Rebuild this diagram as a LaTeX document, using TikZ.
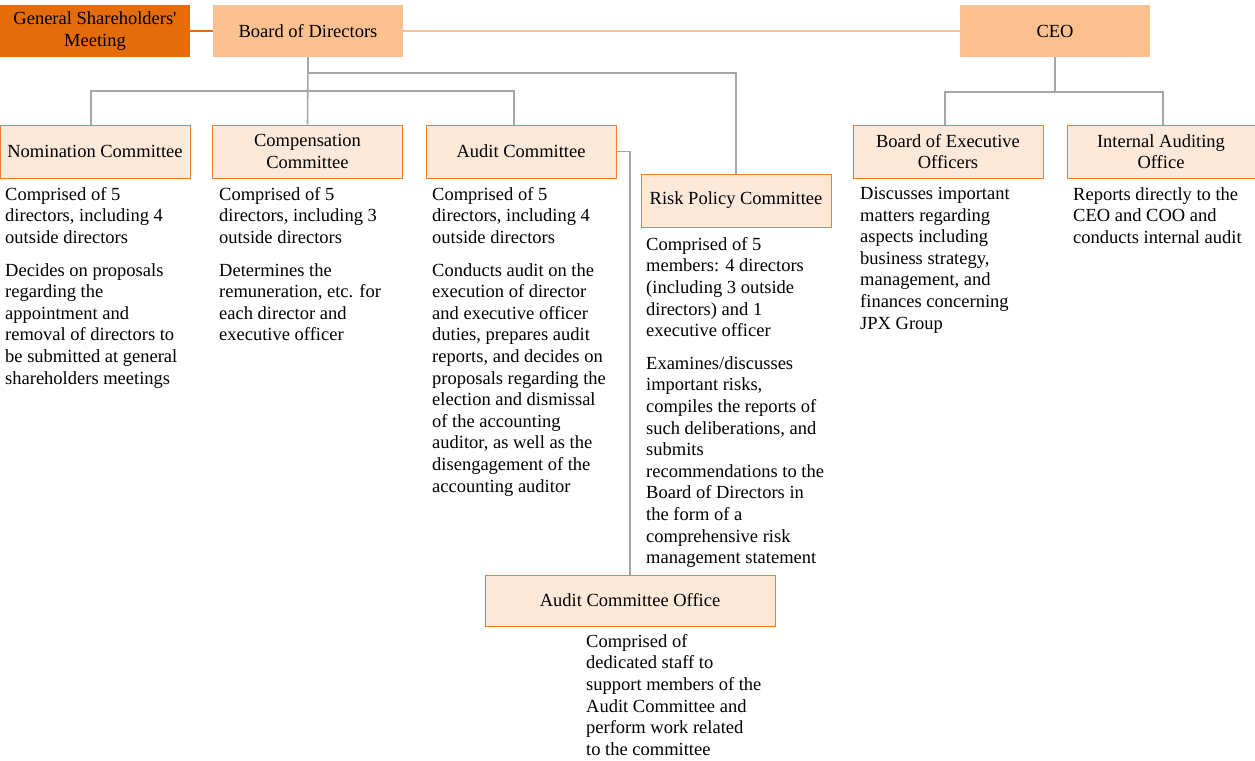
\documentclass[tikz,border=0pt]{standalone}
\usepackage{fontspec}
\setmainfont{Liberation Serif}
\usetikzlibrary{positioning}
\definecolor{meeting}{HTML}{E46C0A}
\definecolor{board}{HTML}{FAC090}
\definecolor{committee}{HTML}{FDE9D9}
\definecolor{edge}{HTML}{EE7F2D}
\definecolor{linkgray}{HTML}{A6A6A6}

\begin{document}
\begin{tikzpicture}[x=1pt,y=-1pt,
  every node/.style={font=\fontsize{18.5}{21.6}\selectfont,inner sep=0pt},
  topbox/.style={minimum width=190pt,minimum height=52pt,align=center},
  combox/.style={draw=edge,line width=1pt,fill=committee,minimum width=190pt,minimum height=53pt,align=center},
  desc/.style={anchor=north west,align=left},
  link/.style={linkgray,line width=1.6pt}]
  \useasboundingbox (0,0) rectangle (1255,760);

  % Top row
  \node[topbox,fill=meeting] (gsm) at (95,31) {General Shareholders\textquotesingle\\Meeting};
  \node[topbox,fill=board] (bod) at (308,31) {Board of Directors};
  \node[topbox,fill=board] (ceo) at (1055,31) {CEO};
  \draw[line width=1.6pt,meeting] (gsm) -- (bod);
  \draw[line width=1.6pt,board] (bod) -- (ceo);

  % Committees under the board
  \node[combox] (nom) at (95,151.5) {Nomination Committee};
  \node[combox] (comp) at (307.5,151.5) {Compensation\\Committee};
  \node[combox] (audit) at (521,151.5) {Audit Committee};
  \node[combox] (risk) at (736,200.5) {Risk Policy Committee};
  \node[combox,minimum width=290pt,minimum height=51pt] (aco) at (630,600.5) {Audit Committee Office};

  % Bodies under the CEO
  \node[combox] (boeo) at (948,151.5) {Board of Executive\\Officers};
  \node[combox,minimum width=188pt] (iao) at (1161,151.5) {Internal Auditing\\Office};

  % Connectors
  \coordinate (riskbus) at (735,73);
  \coordinate (combus) at (311,91);
  \coordinate (execbus) at (1055,92);
  \draw[link] (bod.south) -- (comp.north);
  \draw[link] (bod.south) |- (riskbus) -| (risk.north);
  \draw[link] ([xshift=-4pt]nom.north) |- (combus) -| ([xshift=-7pt]audit.north);
  \draw[link] (audit.east) -| (aco.north);
  \draw[link] (ceo.south) -- (execbus);
  \draw[link] ([xshift=-3pt]boeo.north) |- (execbus) -| ([xshift=2pt]iao.north);

  % Descriptions
  \node[desc] (nomtext) at (5,187) {Comprised of 5\\directors, including 4\\outside directors\\[11pt]
    Decides on proposals\\regarding the\\appointment and\\removal of directors to\\be submitted at general\\shareholders meetings};
  \node[desc] (comptext) at (219,187) {Comprised of 5\\directors, including 3\\outside directors\\[11pt]
    Determines the\\remuneration, etc. for\\each director and\\executive officer};
  \node[desc] (audittext) at (432,187) {Comprised of 5\\directors, including 4\\outside directors\\[11pt]
    Conducts audit on the\\execution of director\\and executive officer\\duties, prepares audit\\reports, and decides on\\proposals regarding the\\election and dismissal\\of the accounting\\auditor, as well as the\\disengagement of the\\accounting auditor};
  \node[desc] (risktext) at (646,237) {Comprised of 5\\members: 4 directors\\(including 3 outside\\directors) and 1\\executive officer\\[11pt]
    Examines/discusses\\important risks,\\compiles the reports of\\such deliberations, and\\submits\\recommendations to the\\Board of Directors in\\the form of a\\comprehensive risk\\management statement};
  \node[desc] (acotext) at (586,634) {Comprised of\\dedicated staff to\\support members of the\\Audit Committee and\\perform work related\\to the committee};
  \node[desc] (boeotext) at (860,187) {Discusses important\\matters regarding\\aspects including\\business strategy,\\management, and\\finances concerning\\JPX Group};
  \node[desc] (iaotext) at (1073,187) {Reports directly to the\\CEO and COO and\\conducts internal audit};
\end{tikzpicture}
\end{document}
